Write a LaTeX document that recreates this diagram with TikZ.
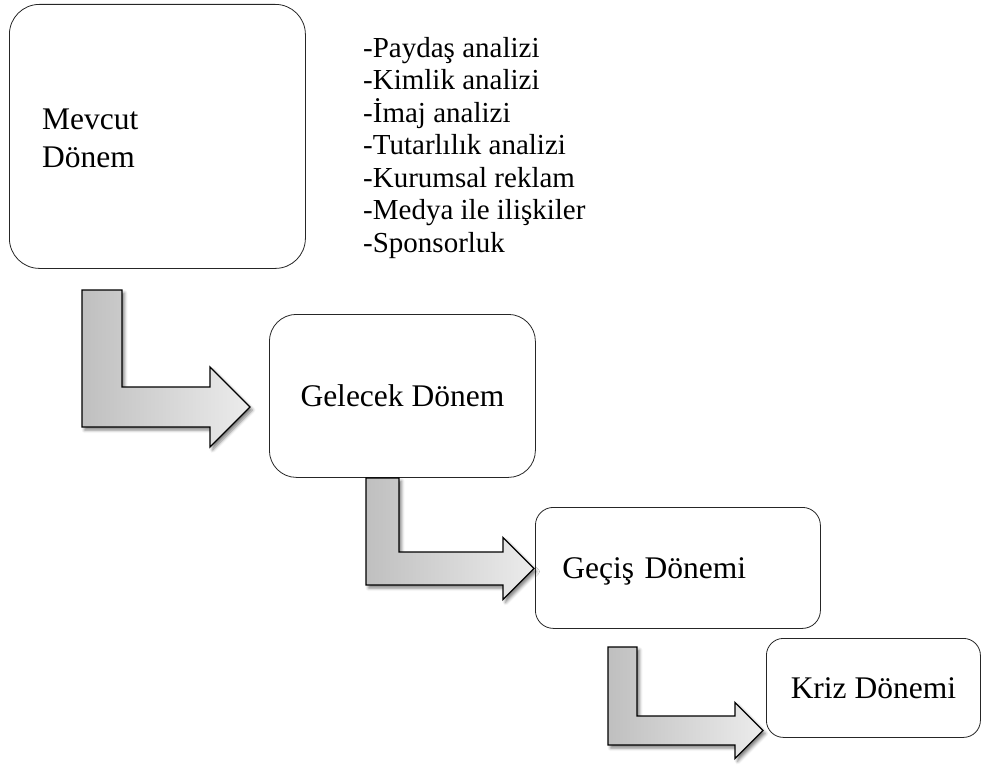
\documentclass[tikz,border=0pt]{standalone}
\usepackage{fontspec}
\setmainfont{Liberation Serif}
\usepackage{tikz}
\usetikzlibrary{shadows.blur}

\tikzset{
  period/.style={draw=black!85, line width=0.8pt, rounded corners=#1, fill=white,
    inner sep=0pt, text depth=0pt, font=\fontsize{31.5}{38}\selectfont},
  period/.default=20pt,
  yazi/.style={align=left, inner sep=0pt, font=\fontsize{31.5}{38}\selectfont},
  liste/.style={align=left, inner sep=0pt, font=\fontsize{29}{32.5}\selectfont},
  blockarrow/.style={draw=black, line width=1.3pt, line join=miter,
    left color=gray!50, right color=gray!15,
    blur shadow={shadow xshift=2.5pt, shadow yshift=-3pt, shadow blur radius=3pt, shadow opacity=50}}
}

% L-shaped block arrow: x left, y top, bar width, bar bottom, head start x, head half height, tip x
\newcommand{\blockarrow}[7]{%
  \draw[blockarrow] (#1,#2) -- (#1,#4) -- (#5,#4) -- (#5,{#4-#3/2+#6}) -- (#7,{#4-#3/2})
    -- (#5,{#4-#3/2-#6}) -- (#5,{#4-#3}) -- ({#1+#3},{#4-#3}) -- ({#1+#3},#2) -- cycle;
}

\begin{document}
\begin{tikzpicture}[x=1pt, y=-1pt]
\useasboundingbox (0,0) rectangle (981,765);

% Periods
\node[period=30pt, minimum width=296pt, minimum height=264pt, anchor=north west] (mevcut) at (9,4) {};
\node[yazi, anchor=base west] (mevcutYazi) at (42,167) {Mevcut\\Dönem};
\node[period=27pt, minimum width=266pt, minimum height=163pt, anchor=north west] (gelecek) at (269,314) {Gelecek Dönem};
\node[period=18pt, minimum width=285pt, minimum height=121pt, anchor=north west,
  text width=231pt, inner xsep=27pt, align=left] (gecis) at (535,507) {Geçiş Dönemi};
\node[period=17pt, minimum width=214pt, minimum height=99pt, anchor=north west] (kriz) at (766,638) {Kriz Dönemi};

% Activities of the current period
\node[liste, anchor=base west] (analizler) at (363,252) {-Paydaş analizi\\-Kimlik analizi\\-İmaj analizi\\-Tutarlılık analizi\\-Kurumsal reklam\\-Medya ile ilişkiler\\-Sponsorluk};

% Arrows between periods
\blockarrow{82}{290}{40}{427}{210}{40}{250}
\blockarrow{366}{478}{33}{585}{503}{31}{534}
\blockarrow{608}{647}{29}{745}{735}{28}{763}
\end{tikzpicture}
\end{document}
